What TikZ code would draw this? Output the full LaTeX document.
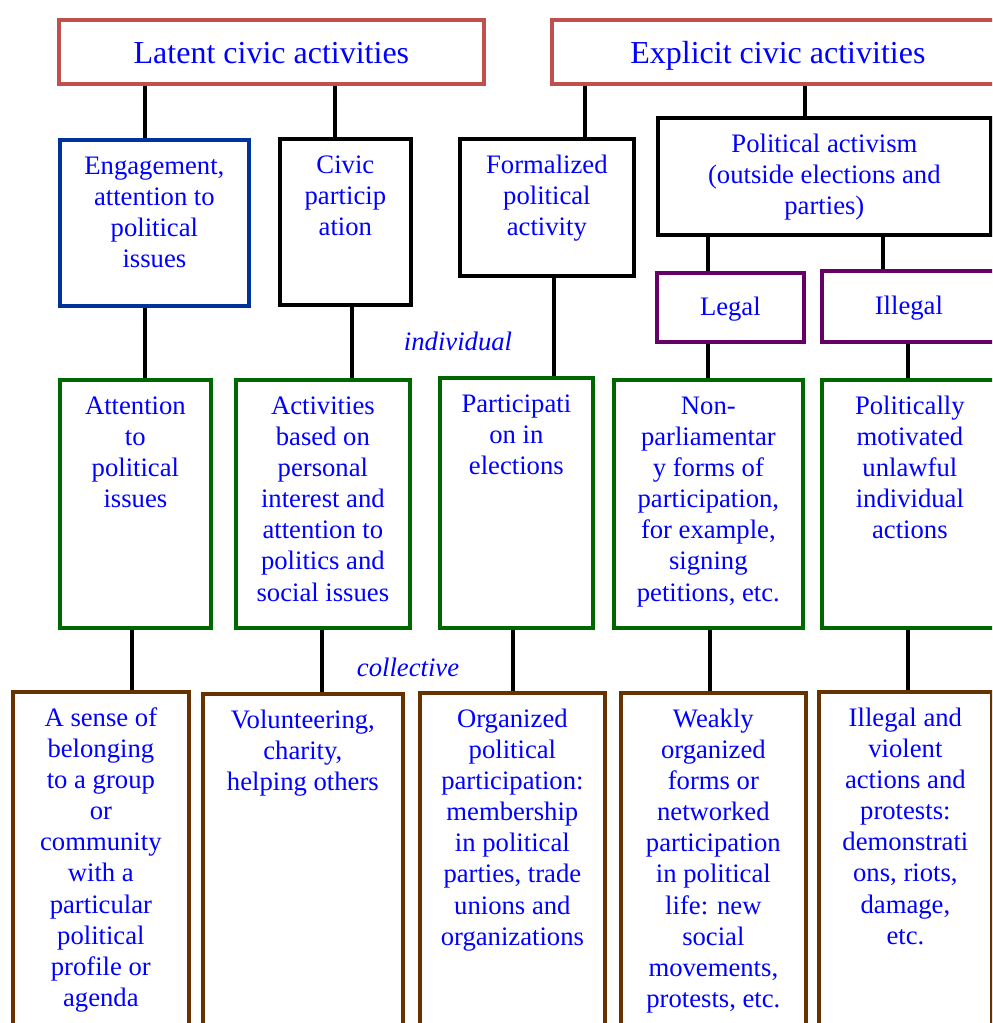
\documentclass[tikz,border=0pt]{standalone}
\usepackage{fontspec}
\setmainfont{Liberation Serif}
\usepackage{tikz}
\usetikzlibrary{positioning}

\definecolor{headred}{HTML}{C0504D}
\definecolor{engblue}{HTML}{003399}
\definecolor{levgreen}{HTML}{006600}
\definecolor{legpurple}{HTML}{660066}
\definecolor{colbrown}{HTML}{663300}
\definecolor{txtblue}{HTML}{0000FF}

% top aligned cell text, sizes are the outer box in px
\newcommand{\cell}[3]{\parbox[t][\dimexpr#2pt*3/4-22.5pt\relax][t]{\dimexpr#1pt*3/4-3pt\relax}{\centering\strut#3}}
\newcommand{\joinbox}[3]{\draw[link] (#1.south -| #3,0) -- (#2.north -| #3,0);}

\tikzset{
  box/.style={draw, line width=2.8pt, rectangle, anchor=north west, inner xsep=0pt, inner ysep=9.75pt,
    text=txtblue, font=\fontsize{20}{23.3}\selectfont},
  head/.style={draw=headred, line width=2.8pt, rectangle, anchor=north west, inner sep=0pt,
    text=txtblue, font=\fontsize{24}{28}\selectfont, text height=20pt, text depth=3pt},
  legbox/.style={draw=legpurple, line width=2.8pt, rectangle, anchor=north west, inner sep=0pt,
    text=txtblue, font=\fontsize{20}{23.3}\selectfont, text height=15pt, text depth=3pt},
  level/.style={text=txtblue, font=\fontsize{20}{23.3}\selectfont\itshape},
  link/.style={line width=2.6pt, draw=black}
}

\begin{document}
\begin{tikzpicture}[x=0.75pt,y=-0.75pt]
  \useasboundingbox (0,0) rectangle (992,1023);
  \clip (0,0) rectangle (992,1023);

  %%%%% headings %%%%%
  \node[head, minimum width=318.75pt, minimum height=48pt] (latent) at (57,18) {Latent civic activities};
  \node[head, minimum width=339pt, minimum height=48pt] (explicit) at (550,18) {Explicit civic activities};

  %%%%% second row %%%%%
  \node[box, draw=engblue] (eng) at (58,138) {\cell{193}{170}{Engagement,\\attention to\\political\\issues}};
  \node[box, draw=black] (civic) at (278,137) {\cell{135}{170}{Civic\\particip\\ation}};
  \node[box, draw=black] (formal) at (458,137) {\cell{178}{141}{Formalized\\political\\activity}};
  \node[box, draw=black] (polact) at (656,116) {\cell{337}{121}{Political activism\\(outside elections and\\parties)}};

  \node[legbox, minimum width=110.25pt, minimum height=51.75pt] (legal) at (655,271) {Legal};
  \node[legbox, minimum width=130.5pt, minimum height=53.25pt] (illegal) at (820,269) {Illegal};

  %%%%% individual %%%%%
  \node[box, draw=levgreen] (att) at (58,378) {\cell{155}{252}{Attention\\to\\political\\issues}};
  \node[box, draw=levgreen] (act) at (234,378) {\cell{178}{252}{Activities\\based on\\personal\\interest and\\attention to\\politics and\\social issues}};
  \node[box, draw=levgreen] (part) at (438,376) {\cell{157}{254}{Participati\\on in\\elections}};
  \node[box, draw=levgreen] (nonparl) at (612,378) {\cell{193}{252}{Non-\\parliamentar\\y forms of\\participation,\\for example,\\signing\\petitions, etc.}};
  \node[box, draw=levgreen] (polmot) at (820,378) {\cell{180}{252}{Politically\\motivated\\unlawful\\individual\\actions}};

  %%%%% collective %%%%%
  \node[box, draw=colbrown] (sense) at (11,690) {\cell{180}{412}{A sense of\\belonging\\to a group\\or\\community\\with a\\particular\\political\\profile or\\agenda}};
  \node[box, draw=colbrown] (vol) at (201,692) {\cell{204}{410}{Volunteering,\\charity,\\helping others}};
  \node[box, draw=colbrown] (org) at (418,691) {\cell{189}{411}{Organized\\political\\participation:\\membership\\in political\\parties, trade\\unions and\\organizations}};
  \node[box, draw=colbrown] (weak) at (619,691) {\cell{189}{411}{Weakly\\organized\\forms or\\networked\\participation\\in political\\life: new\\social\\movements,\\protests, etc.}};
  \node[box, draw=colbrown] (viol) at (817,690) {\cell{177}{412}{Illegal and\\violent\\actions and\\protests:\\demonstrati\\ons, riots,\\damage,\\etc.}};

  \node[level] (indiv) at (458,341) {individual};
  \node[level] (coll) at (408,667) {collective};

  %%%%% connectors %%%%%
  \joinbox{latent}{eng}{145}
  \joinbox{latent}{civic}{335}
  \joinbox{explicit}{formal}{585}
  \joinbox{explicit}{polact}{805}
  \joinbox{polact}{legal}{708}
  \joinbox{polact}{illegal}{883}

  \joinbox{eng}{att}{145}
  \joinbox{civic}{act}{352}
  \joinbox{formal}{part}{554}
  \joinbox{legal}{nonparl}{708}
  \joinbox{illegal}{polmot}{908}

  \joinbox{att}{sense}{132}
  \joinbox{act}{vol}{322}
  \joinbox{part}{org}{513}
  \joinbox{nonparl}{weak}{710}
  \joinbox{polmot}{viol}{908}
\end{tikzpicture}
\end{document}
